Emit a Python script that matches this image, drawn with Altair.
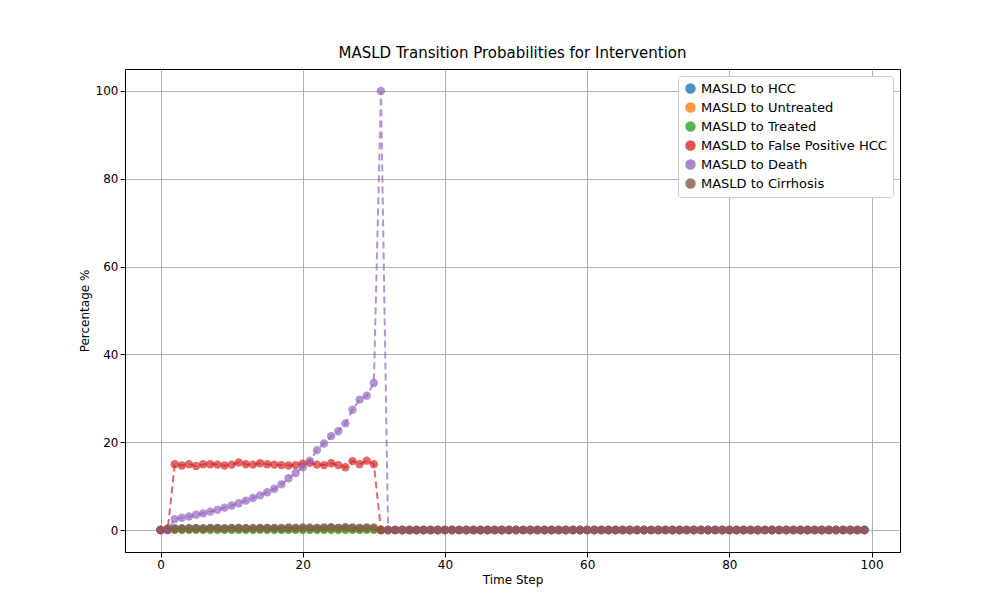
import pandas as pd
import altair as alt

steps = list(range(100))
series_names = ["MASLD to HCC", "MASLD to Untreated", "MASLD to Treated",
                "MASLD to False Positive HCC", "MASLD to Death", "MASLD to Cirrhosis"]
colors = ["#1f77b4", "#ff7f0e", "#2ca02c", "#d62728", "#9467bd", "#8c564b"]

hcc = [0.0] + [0.3, 0.4, 0.3, 0.5, 0.4, 0.3, 0.4, 0.5, 0.3, 0.4, 0.5, 0.4, 0.3, 0.4, 0.5, 0.4,
               0.3, 0.4, 0.5, 0.4, 0.3, 0.4, 0.5, 0.6, 0.5, 0.6, 0.4, 0.5, 0.4, 0.3] + [0.0] * 69
untreated = [0.0] + [0.1] * 30 + [0.0] * 69
treated = [0.0] + [0.05] * 30 + [0.0] * 69
false_pos = [0.0, 0.0, 15.0, 14.7, 15.0, 14.6, 15.0, 15.0, 14.9, 14.7, 14.9, 15.4, 15.0, 14.9,
             15.2, 15.0, 14.9, 14.8, 14.7, 14.8, 15.1, 15.3, 14.9, 14.8, 15.2, 14.8, 14.3, 15.7,
             15.0, 15.8, 15.0] + [0.0] * 69
death = [0.0, 0.0, 2.5, 2.8, 3.1, 3.5, 3.8, 4.2, 4.6, 5.1, 5.6, 6.1, 6.7, 7.3, 7.9, 8.6, 9.4,
         10.4, 11.8, 13.0, 14.3, 15.8, 18.2, 19.7, 21.4, 22.5, 24.3, 27.4, 29.7, 30.6, 33.5,
         100.0] + [0.0] * 68
cirrhosis = [0.0] + [0.3, 0.3, 0.4, 0.3, 0.4, 0.4, 0.5, 0.4, 0.4, 0.5, 0.5, 0.4, 0.5, 0.5, 0.4,
                     0.5, 0.5, 0.6, 0.5, 0.6, 0.6, 0.5, 0.6, 0.6, 0.5, 0.6, 0.6, 0.5, 0.6, 0.6] + [0.0] * 69

rows = []
for order, (name, vals) in enumerate(zip(series_names,
                                         [hcc, untreated, treated, false_pos, death, cirrhosis])):
    for t, v in zip(steps, vals):
        rows.append({"step": t, "value": v, "series": name, "order": order})
df = pd.DataFrame(rows)

color = alt.Color("series:N", sort=series_names,
                  scale=alt.Scale(domain=series_names, range=colors),
                  legend=alt.Legend(title=None, orient="top-right", symbolType="circle",
                                    labelFontSize=13, symbolSize=80, strokeColor="#cccccc",
                                    fillColor="white", padding=6, cornerRadius=3,
                                    labelFont="DejaVu Sans", rowPadding=4, offset=7,
                                    labelLimit=300, symbolOpacity=0.8))
x = alt.X("step:Q", title="Time Step", scale=alt.Scale(domain=[-5, 104], nice=False),
          axis=alt.Axis(values=[0, 20, 40, 60, 80, 100], gridColor="#b0b0b0", tickColor="black"))
y = alt.Y("value:Q", title="Percentage %", scale=alt.Scale(domain=[-5, 105], nice=False),
          axis=alt.Axis(values=[0, 20, 40, 60, 80, 100], gridColor="#b0b0b0", tickColor="black"))

base = alt.Chart(df).encode(x=x, y=y, color=color, detail="series:N")
lines = base.mark_line(strokeDash=[7, 4], strokeWidth=2, opacity=0.7)
points = base.mark_circle(size=70, opacity=0.7).encode(order="order:Q")

chart = (lines + points).properties(
    width=775, height=483,
    title=alt.TitleParams("MASLD Transition Probabilities for Intervention", fontSize=15,
                          fontWeight="normal", font="DejaVu Sans", offset=8),
    padding={"left": 70, "top": 38, "right": 10, "bottom": 10},
).configure_axis(
    labelFont="DejaVu Sans", titleFont="DejaVu Sans", labelFontSize=12, titleFontSize=12,
    titleFontWeight="normal", domainColor="black", labelColor="black", titleColor="black",
).configure_view(stroke="black")

chart.save("out.html", embed_options={"renderer": "svg", "actions": False})
